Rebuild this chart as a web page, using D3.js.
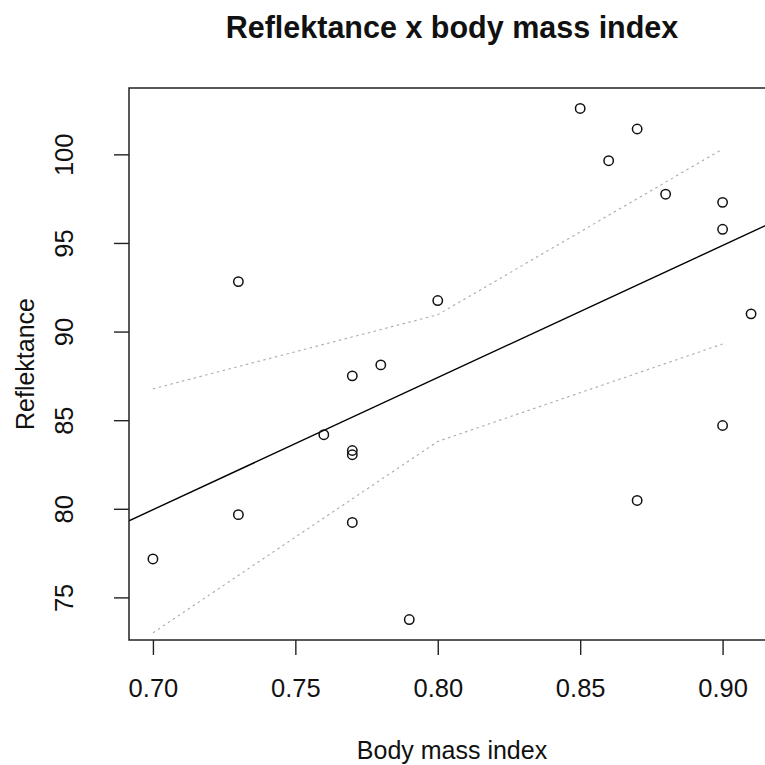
<!DOCTYPE html>
<html>
<head>
<meta charset="utf-8">
<script src="https://cdn.jsdelivr.net/npm/d3@7"></script>
<style>
  body { margin: 0; background: #fff; }
  svg { display: block; font-family: "Liberation Sans", Arial, sans-serif; }
</style>
</head>
<body>
<div id="chart"></div>
<script>
// body mass index (x) vs reflektance (y)
const bmi = [0.70, 0.73, 0.73, 0.76, 0.77, 0.77, 0.77, 0.77, 0.78, 0.79,
             0.80, 0.85, 0.86, 0.87, 0.87, 0.88, 0.90, 0.90, 0.90, 0.91]
const reflektance = [77.17, 92.82, 79.67, 84.18, 87.5, 83.29, 83.05, 79.23, 88.12, 73.75,
                     91.75, 102.59, 99.64, 101.43, 80.47, 97.75, 97.29, 95.77, 84.70, 91.0]

// dotted confidence band
const bandX = [0.70, 0.80, 0.90]
const bandUpper = [86.77, 90.95, 100.3]
const bandLower = [73.0, 83.8, 89.3]

const xTicks = [0.70, 0.75, 0.80, 0.85, 0.90]
const yTicks = [75, 80, 85, 90, 95, 100]

const title = "Reflektance x body mass index"
const xLabel = "Body mass index"
const yLabel = "Reflektance"

document.addEventListener("DOMContentLoaded", () => {
  const config = {
    "w": 765,
    "h": 765,
    "left": 129,
    "right": 775,
    "top": 88,
    "bottom": 640
  }

  // R style axis limits: data range + 4%
  const pad = (lo, hi) => [lo - (hi - lo) * 0.04, hi + (hi - lo) * 0.04]
  const x_scale = d3.scaleLinear()
                    .domain(pad(d3.min(bmi), d3.max(bmi)))
                    .range([config.left, config.right])
  const y_scale = d3.scaleLinear()
                    .domain(pad(d3.min(reflektance), d3.max(reflektance)))
                    .range([config.bottom, config.top])

  const svg = d3.select("#chart")
                .append("svg")
                .attr("width", config.w)
                .attr("height", config.h)

  svg.append("clipPath")
     .attr("id", "plot-clip")
     .append("rect")
     .attr("x", config.left)
     .attr("y", config.top)
     .attr("width", config.right - config.left)
     .attr("height", config.bottom - config.top)

  // least squares line, like abline(lm(y ~ x))
  const mx = d3.mean(bmi)
  const my = d3.mean(reflektance)
  const sxy = d3.sum(bmi, (d, i) => (d - mx) * (reflektance[i] - my))
  const sxx = d3.sum(bmi, d => (d - mx) * (d - mx))
  const slope = sxy / sxx
  const intercept = my - slope * mx
  const xd = x_scale.domain()

  const line = d3.line()
                 .x(d => x_scale(d[0]))
                 .y(d => y_scale(d[1]))

  const plot = svg.append("g").attr("clip-path", "url(#plot-clip)")

  plot.append("path")
      .datum(xd.map(v => [v, intercept + slope * v]))
      .attr("d", line)
      .attr("fill", "none")
      .attr("stroke", "#000")
      .attr("stroke-width", 1.4)

  const bands = [bandUpper, bandLower]
  plot.selectAll(".band")
      .data(bands)
      .enter()
      .append("path")
      .attr("class", "band")
      .attr("d", b => line(bandX.map((v, i) => [v, b[i]])))
      .attr("fill", "none")
      .attr("stroke", "#aaaaaa")
      .attr("stroke-width", 1.1)
      .attr("stroke-dasharray", "2.5,3.5")

  plot.selectAll("circle")
      .data(bmi)
      .enter()
      .append("circle")
      .attr("cx", d => x_scale(d))
      .attr("cy", (d, i) => y_scale(reflektance[i]))
      .attr("r", 4.7)
      .attr("fill", "none")
      .attr("stroke", "#111")
      .attr("stroke-width", 1.5)

  // box
  svg.append("rect")
     .attr("x", config.left)
     .attr("y", config.top)
     .attr("width", config.right - config.left)
     .attr("height", config.bottom - config.top)
     .attr("fill", "none")
     .attr("stroke", "#222")
     .attr("stroke-width", 1.5)

  const xAxis = d3.axisBottom(x_scale)
                  .tickValues(xTicks)
                  .tickSize(15)
                  .tickFormat(d3.format(".2f"))
  const yAxis = d3.axisLeft(y_scale)
                  .tickValues(yTicks)
                  .tickSize(15)

  const gx = svg.append("g")
                .attr("transform", "translate(0," + config.bottom + ")")
                .call(xAxis)
  gx.select(".domain").remove()
  gx.selectAll("line").attr("stroke", "#222").attr("stroke-width", 1.4)
  gx.selectAll("text")
    .attr("y", 57)
    .attr("dy", 0)
    .attr("fill", "#111")
    .style("font-size", "25.5px")
    .style("font-family", "'Liberation Sans', Arial, sans-serif")

  const gy = svg.append("g")
                .attr("transform", "translate(" + config.left + ",0)")
                .call(yAxis)
  gy.select(".domain").remove()
  gy.selectAll("line").attr("stroke", "#222").attr("stroke-width", 1.4)
  gy.selectAll("text")
    .attr("transform", "rotate(-90)")
    .attr("x", 0)
    .attr("y", -56)
    .attr("dy", 0)
    .attr("text-anchor", "middle")
    .attr("fill", "#111")
    .style("font-size", "25.5px")
    .style("font-family", "'Liberation Sans', Arial, sans-serif")

  const cx = (config.left + config.right) / 2
  const cy = (config.top + config.bottom) / 2

  svg.append("text")
     .attr("x", cx)
     .attr("y", 38)
     .attr("text-anchor", "middle")
     .attr("font-weight", "bold")
     .attr("font-size", 30.5)
     .attr("fill", "#111")
     .text(title)

  svg.append("text")
     .attr("x", cx)
     .attr("y", 759)
     .attr("text-anchor", "middle")
     .attr("font-size", 25)
     .attr("fill", "#111")
     .text(xLabel)

  svg.append("text")
     .attr("transform", "translate(34," + cy + ") rotate(-90)")
     .attr("text-anchor", "middle")
     .attr("font-size", 25)
     .attr("fill", "#111")
     .text(yLabel)
})
</script>
</body>
</html>
